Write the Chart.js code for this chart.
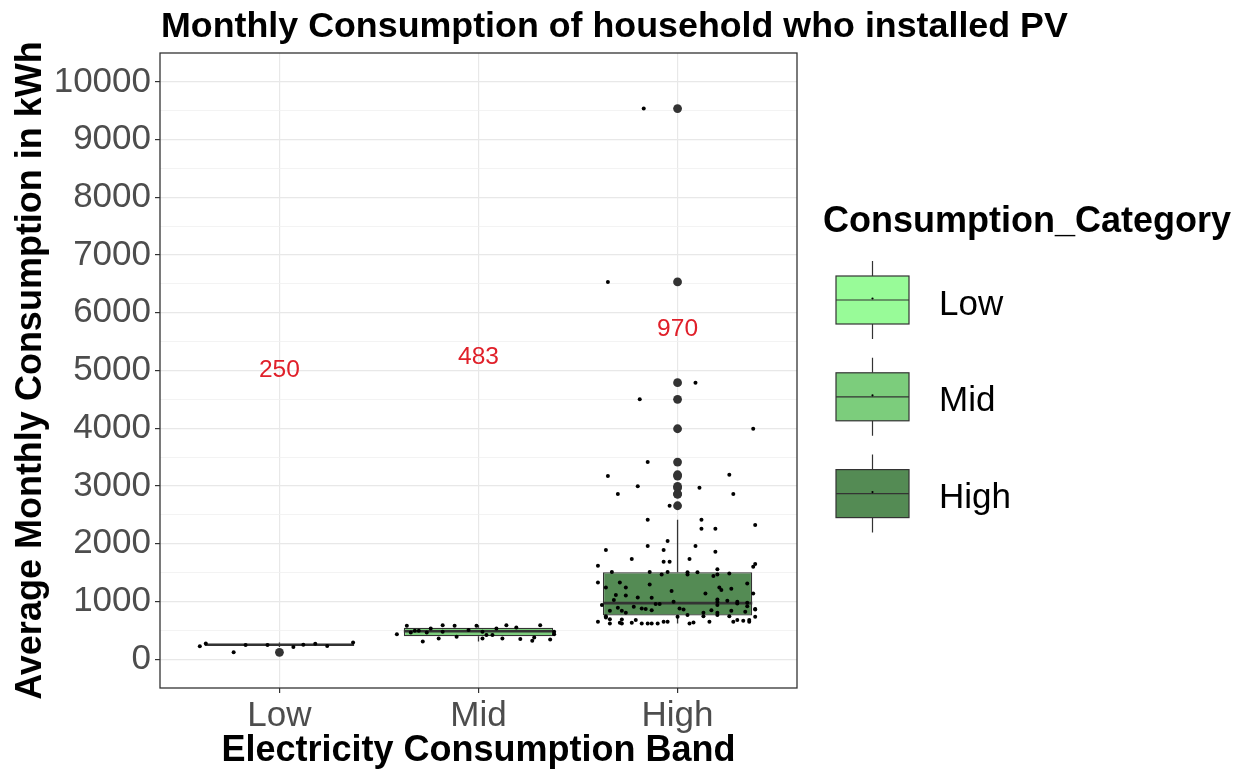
<!DOCTYPE html>
<html>
<head>
<meta charset="utf-8">
<title>Monthly Consumption of household who installed PV</title>
<script src="https://cdn.jsdelivr.net/npm/chart.js@4.4.1/dist/chart.umd.min.js"></script>
<style>
  html, body { margin: 0; padding: 0; background: #ffffff; }
  canvas { display: block; }
</style>
</head>
<body>
<canvas id="chart" width="1239" height="773"></canvas>
<script>
const FONT = '"Liberation Sans", Arial, Helvetica, sans-serif';

// Texts
const chartTitle = 'Monthly Consumption of household who installed PV';
const xTitle = 'Electricity Consumption Band';
const yTitle = 'Average Monthly Consumption in kWh';
const legendTitle = 'Consumption_Category';

// Categories and box colours
const bands = ['Low', 'Mid', 'High'];
const bandFill = ['#98FB98', '#7CCD7C', '#548B54'];

// Box-plot statistics per band (kWh)
const medians = [250, 483, 970];
const lowerHinge = [235, 395, 757];
const upperHinge = [265, 545, 1505];
const lowerWhisker = [210, 307, 619];
const upperWhisker = [290, 589, 2414];
const outliers = [
  [118],
  [],
  [9537, 6535, 4789, 4500, 3991, 3414, 3194, 3172, 2993, 2969, 2860, 2860, 2657]
];

// Axis ticks
const yTicks = [0, 1000, 2000, 3000, 4000, 5000, 6000, 7000, 8000, 9000, 10000];
const yLimits = [-500, 10500];

// Household observations: [horizontal jitter within band, kWh]
const lowJitter = [
  [-0.40, 225], [-0.37, 272], [-0.23, 118], [-0.17, 245], [-0.06, 243],
  [0.07, 210], [0.12, 248], [0.18, 268], [0.24, 226], [0.37, 290]
];
const midJitter = [
  [-0.41, 433], [-0.36, 577], [-0.34, 463], [-0.32, 490], [-0.30, 490],
  [-0.28, 307], [-0.26, 463], [-0.24, 532], [-0.20, 359], [-0.18, 589],
  [-0.18, 473], [-0.12, 577], [-0.11, 387], [-0.05, 503], [-0.01, 577],
  [0.02, 359], [0.02, 473], [0.04, 416], [0.07, 416], [0.09, 532],
  [0.12, 359], [0.14, 589], [0.19, 549], [0.21, 347], [0.27, 317],
  [0.28, 376], [0.31, 589], [0.36, 341], [0.38, 433], [0.38, 473]
];
const highJitter = [
  [-0.17, 9537], [-0.35, 6535], [0.09, 4789], [-0.19, 4500], [0.38, 3991],
  [-0.15, 3414], [-0.35, 3172], [0.26, 3194], [-0.20, 2993], [0.11, 2969],
  [-0.30, 2860], [0.28, 2860], [-0.04, 2657],
  [-0.15, 2414], [0.12, 2414], [0.12, 2258], [0.19, 2258], [0.39, 2322],
  [-0.05, 2045], [-0.15, 1958], [0.09, 1958], [0.19, 1860], [-0.36, 1889],
  [-0.07, 1889], [-0.23, 1733], [0.06, 1733], [-0.07, 1686], [-0.04, 1686],
  [-0.40, 1617], [0.39, 1646], [0.38, 1600], [0.20, 1555],
  [-0.33, 1508], [-0.14, 1508], [-0.05, 1508], [0.05, 1503], [0.05, 1468],
  [-0.08, 1468], [0.10, 1503], [0.20, 1468], [0.26, 1485], [0.18, 1438],
  [-0.40, 1329], [-0.29, 1329], [-0.14, 1295], [0.35, 1312], [-0.36, 1243],
  [-0.26, 1243], [0.21, 1243], [0.22, 1196], [0.27, 1218], [-0.03, 1179],
  [0.38, 1139], [0.14, 1139], [-0.31, 1109], [-0.26, 1104], [-0.20, 1069],
  [-0.13, 1062], [-0.32, 1023], [0.20, 1035], [0.20, 993], [0.25, 1010],
  [0.30, 993], [-0.02, 993], [-0.11, 953], [-0.09, 953], [0.35, 976],
  [-0.38, 936], [0.35, 918], [-0.30, 889], [-0.22, 906], [-0.18, 879],
  [-0.16, 867], [-0.13, 849], [0.01, 879], [0.03, 861], [0.20, 936],
  [0.17, 849], [0.30, 965], [-0.34, 837], [-0.28, 837], [-0.26, 802],
  [0.20, 802], [0.27, 837], [0.34, 820], [0.39, 867], [0.13, 802],
  [0.05, 763], [0.13, 745], [-0.36, 745], [-0.36, 723], [-0.34, 693],
  [-0.28, 688], [-0.40, 646], [-0.34, 619], [-0.29, 629], [-0.28, 619],
  [-0.23, 629], [-0.21, 676], [-0.18, 619], [-0.15, 619], [-0.13, 619],
  [-0.10, 619], [-0.07, 646], [-0.05, 646], [0.00, 733], [0.06, 619],
  [0.08, 636], [0.16, 646], [0.20, 763], [0.26, 745], [0.28, 646],
  [0.30, 676], [0.33, 664], [0.36, 676], [0.36, 646], [0.39, 733],
  [0.39, 861]
];
const jitter = [lowJitter, midJitter, highJitter];

// Drawing constants
const BOX_HALF = 0.375;          // half box width, in band units
const MEDIAN_LABEL_LIFT = 4750;  // labels sit this far above their median
const INK = '#333333';

const pos = i => i + 1;

const boxData = bands.map((b, i) => ({ x: pos(i), y: [lowerHinge[i], upperHinge[i]] }));
const medianData = medians.flatMap((m, i) => [
  { x: pos(i) - BOX_HALF, y: m }, { x: pos(i) + BOX_HALF, y: m }, { x: pos(i), y: null }
]);
const whiskerData = bands.flatMap((b, i) => [
  { x: pos(i), y: lowerWhisker[i] }, { x: pos(i), y: lowerHinge[i] }, { x: pos(i), y: null },
  { x: pos(i), y: upperHinge[i] }, { x: pos(i), y: upperWhisker[i] }, { x: pos(i), y: null }
]);
const outlierData = outliers.flatMap((g, i) => g.map(v => ({ x: pos(i), y: v })));
const jitterData = jitter.flatMap((g, i) => g.map(([dx, v]) => ({ x: pos(i) + dx, y: v })));

// y grid: labelled thousands plus unlabelled half steps
function yGridTicks() {
  const step = yTicks[1] - yTicks[0];
  const out = [];
  yTicks.forEach(v => { out.push({ value: v - step / 2, minor: true }); out.push({ value: v, minor: false }); });
  out.push({ value: yTicks[yTicks.length - 1] + step / 2, minor: true });
  return out;
}
const inPanel = v => v > yLimits[0] && v < yLimits[1];

const decorations = {
  id: 'decorations',
  afterDatasetsDraw(chart) {
    const { ctx, chartArea: a, scales: { x, y } } = chart;
    ctx.save();
    // median value labels
    ctx.font = `24.5px ${FONT}`;
    ctx.fillStyle = '#E0202A';
    ctx.textAlign = 'center';
    ctx.textBaseline = 'middle';
    medians.forEach((m, i) => {
      ctx.fillText(String(m), x.getPixelForValue(pos(i)), y.getPixelForValue(m + MEDIAN_LABEL_LIFT));
    });
    // panel border
    ctx.strokeStyle = INK;
    ctx.lineWidth = 1.3;
    ctx.strokeRect(a.left, a.top, a.right - a.left, a.bottom - a.top);
    ctx.restore();
  },
  afterDraw(chart) {
    const { ctx, chartArea: a } = chart;
    ctx.save();
    // plot title, aligned with the panel
    ctx.fillStyle = '#000000';
    ctx.textAlign = 'left';
    ctx.textBaseline = 'alphabetic';
    ctx.font = `bold 35.8px ${FONT}`;
    ctx.fillText(chartTitle, a.left + 1, 37);

    // legend, centred on the panel
    const mid = (a.top + a.bottom) / 2;
    const keyLeft = a.right + 39;
    const keyW = 73, keyHalfH = 24, whisk = 15;
    const keyX = keyLeft + keyW / 2;
    ctx.font = `bold 36px ${FONT}`;
    ctx.fillText(legendTitle, a.right + 26, mid - 138.5);
    ctx.font = `35px ${FONT}`;
    bands.forEach((b, i) => {
      const cy = mid - 70.5 + i * 96.8;
      ctx.strokeStyle = INK;
      ctx.lineWidth = 1.2;
      ctx.beginPath();
      ctx.moveTo(keyX, cy - keyHalfH - whisk); ctx.lineTo(keyX, cy - keyHalfH);
      ctx.moveTo(keyX, cy + keyHalfH); ctx.lineTo(keyX, cy + keyHalfH + whisk);
      ctx.stroke();
      ctx.fillStyle = bandFill[i];
      ctx.fillRect(keyLeft, cy - keyHalfH, keyW, keyHalfH * 2);
      ctx.strokeRect(keyLeft, cy - keyHalfH, keyW, keyHalfH * 2);
      ctx.beginPath();
      ctx.moveTo(keyLeft, cy); ctx.lineTo(keyLeft + keyW, cy);
      ctx.stroke();
      ctx.fillStyle = '#000000';
      ctx.beginPath();
      ctx.arc(keyX, cy - 1.5, 1.1, 0, Math.PI * 2);
      ctx.fill();
      ctx.fillText(b, a.right + 142, cy + 14.5);
    });
    ctx.restore();
  }
};

new Chart(document.getElementById('chart'), {
  type: 'bar',
  data: {
    datasets: [
      {
        type: 'scatter', label: 'households', data: jitterData, order: 1,
        pointRadius: 2, pointBackgroundColor: '#000000', pointBorderWidth: 0
      },
      {
        type: 'line', label: 'median', data: medianData, order: 2,
        borderColor: INK, borderWidth: 2.6, pointRadius: 0, spanGaps: false, fill: false
      },
      {
        type: 'bar', label: 'box', data: boxData, order: 3,
        backgroundColor: bandFill, borderColor: INK, borderWidth: 1.3, borderSkipped: false,
        categoryPercentage: 1, barPercentage: BOX_HALF * 2
      },
      {
        type: 'line', label: 'whiskers', data: whiskerData, order: 4,
        borderColor: INK, borderWidth: 1.3, pointRadius: 0, spanGaps: false, fill: false
      },
      {
        type: 'scatter', label: 'outliers', data: outlierData, order: 5,
        pointRadius: 4.4, pointBackgroundColor: INK, pointBorderWidth: 0
      }
    ]
  },
  options: {
    responsive: false,
    animation: false,
    events: [],
    layout: { padding: { top: 53, right: 442, bottom: 0, left: 0 } },
    plugins: {
      legend: { display: false },
      title: { display: false },
      tooltip: { enabled: false }
    },
    scales: {
      x: {
        type: 'linear',
        min: 0.4, max: 3.6,
        offset: false,
        afterBuildTicks: s => { s.ticks = bands.map((b, i) => ({ value: pos(i) })); },
        afterFit: s => { s.height = 85; },
        ticks: {
          autoSkip: false, maxRotation: 0, minRotation: 0, padding: 2,
          color: '#4D4D4D', font: { family: FONT, size: 35 },
          callback: v => bands[Math.round(v) - 1] || ''
        },
        grid: { offset: false, color: '#E8E8E8', lineWidth: 1.2, tickColor: INK, tickLength: 5, tickWidth: 1.2 },
        border: { display: false },
        title: {
          display: true, text: xTitle, color: '#000000',
          font: { family: FONT, size: 36, weight: 'bold' }, padding: { top: 0, bottom: 0 }
        }
      },
      y: {
        type: 'linear',
        min: yLimits[0], max: yLimits[1],
        afterBuildTicks: s => { s.ticks = yGridTicks(); },
        afterFit: s => { s.width = 160; },
        ticks: {
          autoSkip: false, padding: 4,
          color: '#4D4D4D', font: { family: FONT, size: 35 },
          callback: (v, i, t) => (t[i] && t[i].minor) ? '' : String(v)
        },
        grid: {
          color: c => (!c.tick || !inPanel(c.tick.value)) ? 'rgba(0,0,0,0)' : (c.tick.minor ? '#F0F0F0' : '#E8E8E8'),
          lineWidth: c => (c.tick && c.tick.minor) ? 0.8 : 1.2,
          tickColor: c => (c.tick && !c.tick.minor) ? INK : 'rgba(0,0,0,0)',
          tickLength: 5, tickWidth: 1.2
        },
        border: { display: false },
        title: {
          display: true, text: yTitle, color: '#000000',
          font: { family: FONT, size: 36, weight: 'bold' }, padding: { top: 9, bottom: 0 }
        }
      }
    }
  },
  plugins: [decorations]
});
</script>
</body>
</html>
